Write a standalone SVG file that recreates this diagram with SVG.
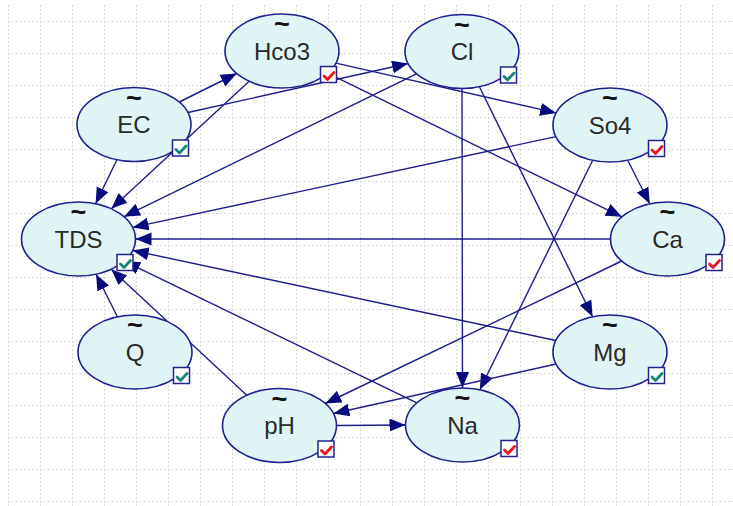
<svg xmlns="http://www.w3.org/2000/svg" width="733" height="506" viewBox="0 0 733 506">
<style>
.grid{fill:none;stroke:#d8d8d8;stroke-width:1;stroke-dasharray:2 2}
.node ellipse{fill:#e1f4f5;stroke:#1f1f8f;stroke-width:1.6}
.lbl{font-family:"Liberation Sans",Arial,sans-serif;font-size:24px;fill:#2a2a2a;text-anchor:middle}
.tl{font-family:"Liberation Sans",Arial,sans-serif;font-size:27px;font-weight:bold;fill:#111;text-anchor:middle}
.edges line{stroke:#1c1c8c;stroke-width:1.4;marker-end:url(#ah)}
.box{fill:#fff;stroke:#22228a;stroke-width:1.5}
.ck{fill:none;stroke-width:2.8;stroke-linecap:round;stroke-linejoin:round}
.red{stroke:#e8161e}.teal{stroke:#17857a}
</style>
<defs>
<marker id="ah" markerUnits="userSpaceOnUse" markerWidth="17" markerHeight="14" refX="16" refY="6.5" orient="auto">
<path d="M0,0 L16,6.5 L0,13 Z" fill="#0a0a80"/>
</marker>
<g id="cbR"><rect class="box" x="38.5" y="15.5" width="16" height="16"/><path class="ck red" d="M42,25 L45.5,28.5 L52,21.5"/></g>
<g id="cbT"><rect class="box" x="38.5" y="15.5" width="16" height="16"/><path class="ck teal" d="M42,25 L45.5,28.5 L52,21.5"/></g>
</defs>
<rect width="733" height="506" fill="#fff"/>
<path class="grid" d="M8.5,5V506M40.5,5V506M72.5,5V506M104.5,5V506M136.5,5V506M168.5,5V506M200.5,5V506M232.5,5V506M264.5,5V506M296.5,5V506M328.5,5V506M360.5,5V506M392.5,5V506M424.5,5V506M456.5,5V506M488.5,5V506M520.5,5V506M552.5,5V506M584.5,5V506M616.5,5V506M648.5,5V506M680.5,5V506M712.5,5V506M8,21.5H733M8,53.5H733M8,85.5H733M8,117.5H733M8,149.5H733M8,181.5H733M8,213.5H733M8,245.5H733M8,277.5H733M8,309.5H733M8,341.5H733M8,373.5H733M8,405.5H733M8,437.5H733M8,469.5H733M8,501.5H733"/>
<g class="edges">
<line x1="179.3" y1="102" x2="236.7" y2="73.5"/>
<line x1="187.9" y1="112.5" x2="408.1" y2="63.5"/>
<line x1="116.9" y1="159.8" x2="95.6" y2="203.7"/>
<line x1="249.2" y1="81.3" x2="111.3" y2="208.7"/>
<line x1="335.9" y1="63.1" x2="556.1" y2="112.9"/>
<line x1="327.6" y1="73.2" x2="621.9" y2="216.8"/>
<line x1="416.5" y1="73.8" x2="124" y2="216.7"/>
<line x1="462" y1="88.5" x2="462.5" y2="388"/>
<line x1="479.4" y1="86.7" x2="592.6" y2="316.8"/>
<line x1="555.9" y1="136.6" x2="132.6" y2="227.4"/>
<line x1="627.7" y1="160.2" x2="649.8" y2="203.8"/>
<line x1="592.7" y1="160.3" x2="479.8" y2="389.7"/>
<line x1="610.5" y1="239" x2="135.5" y2="239"/>
<line x1="621.7" y1="261" x2="325.3" y2="403.5"/>
<line x1="555.8" y1="340.5" x2="132.7" y2="250.5"/>
<line x1="556.1" y1="364" x2="333.4" y2="413.5"/>
<line x1="416.8" y1="402.9" x2="124.2" y2="261.1"/>
<line x1="246.8" y1="395.2" x2="111.2" y2="269.3"/>
<line x1="336.5" y1="425.5" x2="405.5" y2="425"/>
<line x1="117.4" y1="316.8" x2="96.1" y2="274.2"/>
</g>
<g id="TDS" class="node" transform="translate(78.5,239)"><ellipse rx="57" ry="37"/><text class="tl" y="-18">~</text><text class="lbl" y="8.5">TDS</text><use href="#cbT"/></g>
<g id="EC" class="node" transform="translate(134,124.5)"><ellipse rx="57" ry="37"/><text class="tl" y="-18">~</text><text class="lbl" y="8.5">EC</text><use href="#cbT"/></g>
<g id="Hco3" class="node" transform="translate(282,51)"><ellipse rx="57" ry="37"/><text class="tl" y="-18">~</text><text class="lbl" y="8.5">Hco3</text><use href="#cbR"/></g>
<g id="Cl" class="node" transform="translate(462,51.5)"><ellipse rx="57" ry="37"/><text class="tl" y="-18">~</text><text class="lbl" y="8.5">Cl</text><use href="#cbT"/></g>
<g id="So4" class="node" transform="translate(610,125)"><ellipse rx="57" ry="37"/><text class="tl" y="-18">~</text><text class="lbl" y="8.5">So4</text><use href="#cbR"/></g>
<g id="Ca" class="node" transform="translate(667.5,239)"><ellipse rx="57" ry="37"/><text class="tl" y="-18">~</text><text class="lbl" y="8.5">Ca</text><use href="#cbR"/></g>
<g id="Mg" class="node" transform="translate(610,352)"><ellipse rx="57" ry="37"/><text class="tl" y="-18">~</text><text class="lbl" y="8.5">Mg</text><use href="#cbT"/></g>
<g id="Na" class="node" transform="translate(462.5,425)"><ellipse rx="57" ry="37"/><text class="tl" y="-18">~</text><text class="lbl" y="8.5">Na</text><use href="#cbR"/></g>
<g id="pH" class="node" transform="translate(279.5,425.5)"><ellipse rx="57" ry="37"/><text class="tl" y="-18">~</text><text class="lbl" y="8.5">pH</text><use href="#cbR"/></g>
<g id="Q" class="node" transform="translate(135,352)"><ellipse rx="57" ry="37"/><text class="tl" y="-18">~</text><text class="lbl" y="8.5">Q</text><use href="#cbT"/></g>
</svg>
